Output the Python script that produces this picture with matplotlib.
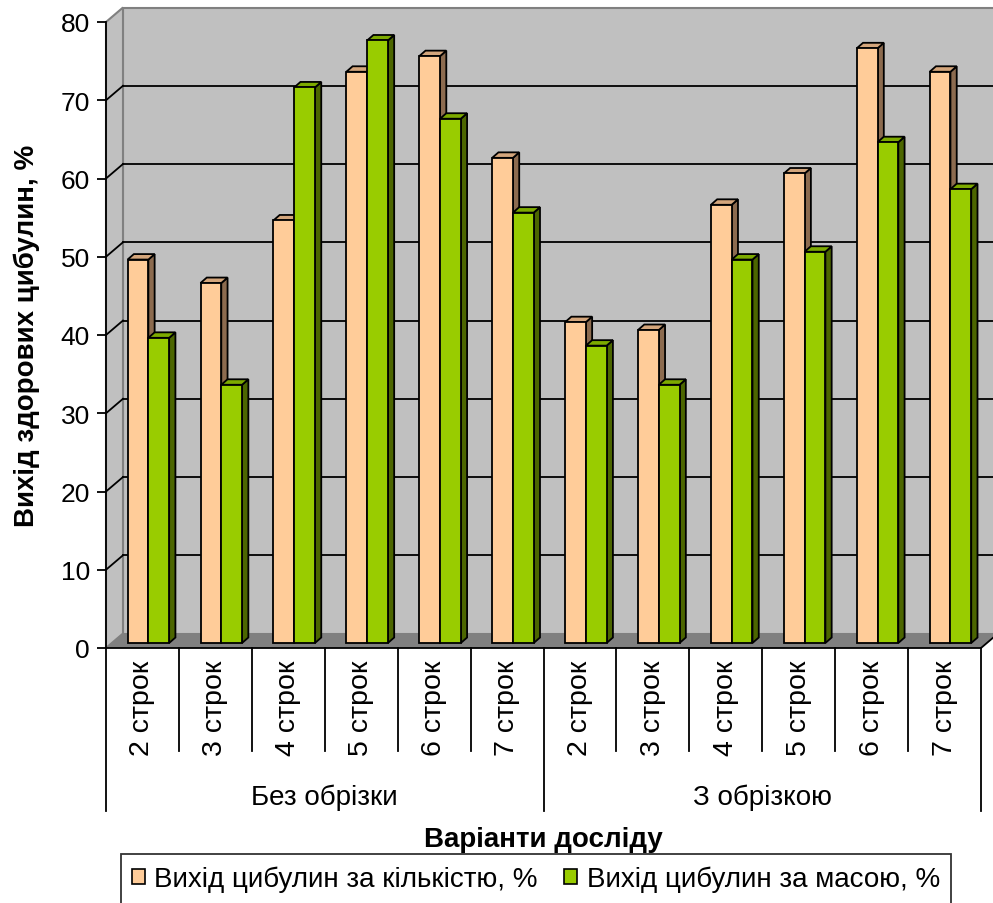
import matplotlib
matplotlib.use('Agg')
import matplotlib.pyplot as plt
import matplotlib.transforms as mtransforms
from matplotlib.patches import Polygon, Rectangle, Patch

plt.rcParams['font.family'] = ['Liberation Sans', 'DejaVu Sans']

# ---- data -------------------------------------------------------------
groups = ['Без обрізки', 'З обрізкою']
terms = ['2 строк', '3 строк', '4 строк', '5 строк', '6 строк', '7 строк']
by_count = [49, 46, 54, 73, 75, 62, 41, 40, 56, 60, 76, 73]
by_mass = [39, 33, 71, 77, 67, 55, 38, 33, 49, 50, 64, 58]
series_names = ['Вихід цибулин за кількістю, %', 'Вихід цибулин за масою, %']
y_ticks = [0, 10, 20, 30, 40, 50, 60, 70, 80]
y_title = 'Вихід здорових цибулин, %'
x_title = 'Варіанти досліду'

# ---- styling ----------------------------------------------------------
face = {'count': ('#FFCC99', '#8C6B4F', '#D4A67C'),
        'mass': ('#99CC00', '#4C6600', '#7DAA00')}
wall_color = '#C0C0C0'
floor_color = '#808080'

W, H, DPI = 993, 904, 100
fig = plt.figure(figsize=(W / DPI, H / DPI), dpi=DPI)
ax = fig.add_axes([106 / W, 1 - 649 / H, 875 / W, 626 / H])
n = len(by_count)
ymax = y_ticks[-1]
ax.set_xlim(0, n)
ax.set_ylim(0, ymax)

# oblique depth of the 3-D box (in data units)
wall_dx, wall_dy = 0.233, 1.85
bar_dx0, bar_dy0 = 0.081, 0.64
bar_ddx, bar_ddy = 0.086, 0.70
bar_w = 0.285

# floor, side wall and back wall
ax.add_patch(Polygon([(0, 0), (n, 0), (n + wall_dx, wall_dy), (wall_dx, wall_dy)],
                     closed=True, fc=floor_color, ec='none', clip_on=False, zorder=1))
ax.add_patch(Polygon([(wall_dx, wall_dy), (n + wall_dx, wall_dy),
                      (n + wall_dx, ymax + wall_dy), (wall_dx, ymax + wall_dy)],
                     closed=True, fc=wall_color, ec=floor_color, lw=1.5, clip_on=False, zorder=1))
ax.add_patch(Polygon([(0, 0), (wall_dx, wall_dy), (wall_dx, ymax + wall_dy), (0, ymax)],
                     closed=True, fc=wall_color, ec=floor_color, lw=1.5, clip_on=False, zorder=1))

# gridlines on the walls
for v in y_ticks[1:-1]:
    ax.plot([wall_dx, n + wall_dx], [v + wall_dy] * 2, color='k', lw=1.3,
            clip_on=False, zorder=2)
    ax.plot([0, wall_dx], [v, v + wall_dy], color='k', lw=1.3, clip_on=False, zorder=2)
ax.plot([n, n + wall_dx], [0, wall_dy], color='k', lw=1.3, clip_on=False, zorder=2)


def draw_bar(x0, value, colors):
    front, side, top = colors
    y0 = bar_dy0
    x1 = x0 + bar_w
    kw = dict(ec='k', lw=1.3, clip_on=False, zorder=3, joinstyle='miter')
    ax.add_patch(Polygon([(x1, y0), (x1 + bar_ddx, y0 + bar_ddy),
                          (x1 + bar_ddx, y0 + value + bar_ddy), (x1, y0 + value)],
                         closed=True, fc=side, **kw))
    ax.add_patch(Polygon([(x0, y0 + value), (x1, y0 + value),
                          (x1 + bar_ddx, y0 + value + bar_ddy),
                          (x0 + bar_ddx, y0 + value + bar_ddy)],
                         closed=True, fc=top, **kw))
    ax.add_patch(Rectangle((x0, y0), bar_w, value, fc=front, **kw))


for i in range(n):
    left = i + 0.5 - bar_w + bar_dx0
    draw_bar(left, by_count[i], face['count'])
    draw_bar(left + bar_w, by_mass[i], face['mass'])

# axes lines and ticks
for s in ['top', 'right']:
    ax.spines[s].set_visible(False)
ax.spines['left'].set_linewidth(1.3)
ax.spines['bottom'].set_linewidth(1.3)
ax.spines['left'].set_zorder(4)
ax.spines['bottom'].set_zorder(4)
ax.set_yticks(y_ticks)
ax.tick_params(axis='y', direction='out', length=6.5, width=1.3, pad=5, labelsize=19)
ax.set_xticks([])
ax.set_facecolor('none')

# category axis with two levels
trans = mtransforms.blended_transform_factory(ax.transData, ax.transAxes)
for k in range(n + 1):
    bottom = -0.26 if k % len(terms) == 0 else -0.1645
    ax.plot([k, k], [0, bottom], color='k', lw=1.3, transform=trans, clip_on=False)
for i in range(n):
    ax.text(i + 0.5, -0.018, terms[i % len(terms)], rotation=90, ha='center', va='top',
            fontsize=20.5, transform=trans)
for g, name in enumerate(groups):
    ax.text(len(terms) * (g + 0.5), -0.237, name, ha='center', va='center',
            fontsize=20, transform=trans)

fig.text(27 / W, 1 - 336 / H, y_title, rotation=90, ha='center', va='center',
         fontsize=20, fontweight='bold')
fig.text(543 / W, 1 - 840 / H, x_title, ha='center', va='center',
         fontsize=20, fontweight='bold')

handles = [Patch(fc=face['count'][0], ec='k', lw=1.2),
           Patch(fc=face['mass'][0], ec='k', lw=1.2)]
leg = fig.legend(handles, series_names, loc='upper center',
                 bbox_to_anchor=(536 / W, 1 - 855 / H),
                 ncol=2, frameon=True, fancybox=False, edgecolor='k', fontsize=20,
                 handlelength=0.45, handleheight=0.45, handletextpad=0.35,
                 columnspacing=0.95, borderpad=0.42, borderaxespad=0)
leg.get_frame().set_linewidth(1.3)

fig.savefig('out.png', dpi=DPI, facecolor='white')
